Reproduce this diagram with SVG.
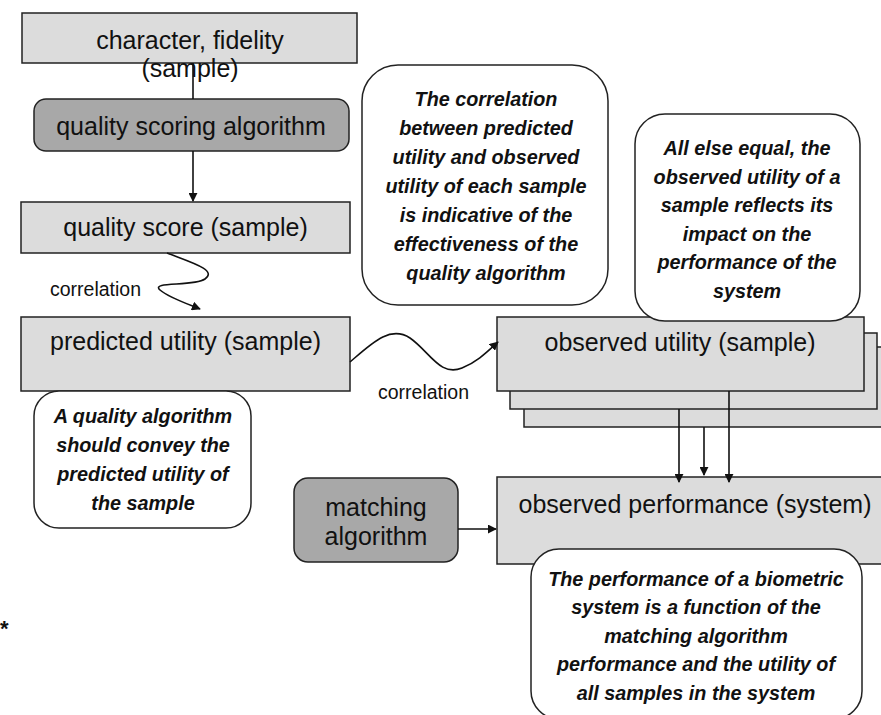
<svg xmlns="http://www.w3.org/2000/svg" width="881" height="715" viewBox="0 0 881 715">
<style>
.box{fill:#dcdcdc;stroke:#222;stroke-width:1.5}
.alg{fill:#a8a8a8;stroke:#222;stroke-width:1.5}
.note{fill:#fff;stroke:#222;stroke-width:1.5}
.lbl{font-family:"Liberation Sans",Arial,sans-serif;font-size:25px;fill:#111;text-anchor:middle}
.cor{font-family:"Liberation Sans",Arial,sans-serif;font-size:19.5px;fill:#111}
.nt{font-family:"Liberation Sans",Arial,sans-serif;font-size:19.8px;font-weight:bold;font-style:italic;fill:#111;text-anchor:middle}
.con{fill:none;stroke:#111;stroke-width:1.6}
</style>
<defs>
<marker id="ah" viewBox="0 0 10 10" refX="9" refY="5" markerWidth="9" markerHeight="9" markerUnits="userSpaceOnUse" orient="auto">
<path d="M0,0 L10,5 L0,10 z" fill="#111"/>
</marker>
</defs>
<rect width="881" height="715" fill="#fff"/>

<g id="character">
<rect class="box" x="22" y="13" width="335" height="50"/>
<text class="lbl" x="190" y="49">character, fidelity</text>
<text class="lbl" x="190" y="77">(sample)</text>
</g>
<g id="quality-scoring-algorithm">
<rect class="alg" x="34" y="99" width="315" height="52" rx="12"/>
<text class="lbl" x="191" y="135">quality scoring algorithm</text>
</g>
<g id="quality-score">
<rect class="box" x="21" y="202" width="329" height="51"/>
<text class="lbl" x="185.5" y="236">quality score (sample)</text>
</g>
<g id="predicted-utility">
<rect class="box" x="21" y="317" width="329" height="74"/>
<text class="lbl" x="185.5" y="350">predicted utility (sample)</text>
</g>
<g id="note-quality">
<rect class="note" x="34" y="391" width="217" height="137" rx="25"/>
<text class="nt" x="143" y="423">A quality algorithm</text>
<text class="nt" x="143" y="452">should convey the</text>
<text class="nt" x="143" y="481">predicted utility of</text>
<text class="nt" x="143" y="510">the sample</text>
</g>
<g id="note-correlation">
<rect class="note" x="362" y="65" width="246" height="240" rx="36"/>
<text class="nt" x="486" y="106">The correlation</text>
<text class="nt" x="486" y="135">between predicted</text>
<text class="nt" x="486" y="164">utility and observed</text>
<text class="nt" x="486" y="193">utility of each sample</text>
<text class="nt" x="486" y="222">is indicative of the</text>
<text class="nt" x="486" y="251">effectiveness of the</text>
<text class="nt" x="486" y="280">quality algorithm</text>
</g>
<g id="observed-utility">
<rect class="box" x="524" y="347" width="370" height="80"/>
<rect class="box" x="510" y="333" width="367" height="76"/>
<rect class="box" x="497" y="317" width="367" height="74"/>
<text class="lbl" x="680" y="351">observed utility (sample)</text>
</g>
<g id="note-observed">
<rect class="note" x="635" y="114" width="225" height="207" rx="30"/>
<text class="nt" x="747" y="155">All else equal, the</text>
<text class="nt" x="747" y="184">observed utility of a</text>
<text class="nt" x="747" y="212">sample reflects its</text>
<text class="nt" x="747" y="241">impact on the</text>
<text class="nt" x="747" y="269">performance of the</text>
<text class="nt" x="747" y="298">system</text>
</g>
<g id="matching-algorithm">
<rect class="alg" x="294" y="478" width="164" height="84" rx="14"/>
<text class="lbl" x="376" y="516">matching</text>
<text class="lbl" x="376" y="545">algorithm</text>
</g>
<g id="observed-performance">
<rect class="box" x="497" y="477" width="400" height="87"/>
<text class="lbl" x="695" y="513">observed performance (system)</text>
</g>
<g id="note-performance">
<rect class="note" x="531" y="549" width="331" height="170" rx="28"/>
<text class="nt" x="696" y="586">The performance of a biometric</text>
<text class="nt" x="696" y="614">system is a function of the</text>
<text class="nt" x="696" y="643">matching algorithm</text>
<text class="nt" x="696" y="671">performance and the utility of</text>
<text class="nt" x="696" y="700">all samples in the system</text>
</g>

<g id="connectors">
<line class="con" x1="193" y1="63" x2="193" y2="99"/>
<line class="con" x1="193" y1="151" x2="193" y2="201" marker-end="url(#ah)"/>
<path class="con" d="M167,253 C190,262 218,270 205,279 C193,287 150,281 160,290 C168,297 185,303 200,309" marker-end="url(#ah)"/>
<path class="con" d="M350,362 C372,343 390,325 410,338 C430,352 440,377 462,368 C477,362 487,352 498,342" marker-end="url(#ah)"/>
<line class="con" x1="458" y1="529" x2="496" y2="529" marker-end="url(#ah)"/>
<line class="con" x1="679" y1="409" x2="679" y2="482" marker-end="url(#ah)"/>
<line class="con" x1="704" y1="427" x2="704" y2="475" marker-end="url(#ah)"/>
<line class="con" x1="729" y1="391" x2="729" y2="482" marker-end="url(#ah)"/>
</g>
<text class="cor" x="50" y="296">correlation</text>
<text class="cor" x="378" y="399">correlation</text>
<text x="0" y="636" style="font-family:'Liberation Sans',Arial,sans-serif;font-size:22px;font-weight:bold;fill:#111">*</text>
</svg>
